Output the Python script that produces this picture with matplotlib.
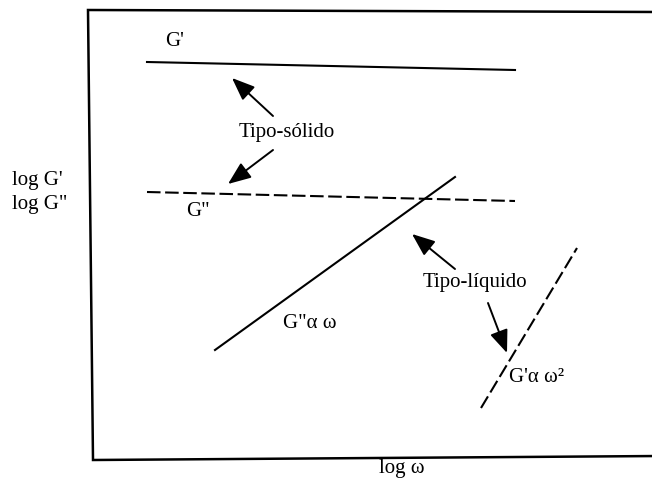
import matplotlib
matplotlib.use("Agg")
import matplotlib.pyplot as plt

# Schematic frequency sweep: log G', log G'' versus log w (arbitrary units)
frame_x = [660, 88, 93, 660]
frame_y = [468, 470, 20, 24]

gp_solid_x = [147, 515]
gp_solid_y = [418, 410]

gpp_solid_x = [147, 515]
gpp_solid_y = [288, 279]

gpp_liquid_x = [215, 455]
gpp_liquid_y = [130, 303]

gp_liquid_x = [481, 577]
gp_liquid_y = [72, 232]

labels = {
    "gp": "G'",
    "gpp": 'G"',
    "solid": "Tipo-sólido",
    "liquid": "Tipo-líquido",
    "gpp_w": 'G"α ω',
    "gp_w2": "G'α ω²",
    "ylab1": "log G'",
    "ylab2": 'log G"',
    "xlab": "log ω",
}

plt.rcParams["font.family"] = ["Liberation Serif", "DejaVu Serif"]
fs = 15

fig = plt.figure(figsize=(6.52, 4.8), dpi=100)
ax = fig.add_axes([0, 0, 1, 1])
ax.set_xlim(0, 652)
ax.set_ylim(0, 480)
ax.axis("off")

ax.plot(frame_x, frame_y, color="black", lw=1.8, solid_joinstyle="miter",
        clip_on=True)

ax.plot(gp_solid_x, gp_solid_y, color="black", lw=1.5)
ax.plot(gpp_solid_x, gpp_solid_y, color="black", lw=1.5, dashes=(6.5, 2.2))
ax.plot(gpp_liquid_x, gpp_liquid_y, color="black", lw=1.5)
ax.plot(gp_liquid_x, gp_liquid_y, color="black", lw=1.5, dashes=(6.5, 2.2))

arrow = dict(arrowstyle="-|>,head_length=1.0,head_width=0.4", color="black",
             lw=1.4, shrinkA=0, shrinkB=0, mutation_scale=14)
for tail, tip in [((273, 364), (232, 402)), ((273, 330), (228, 296)),
                  ((455, 211), (412, 246)), ((488, 177), (507, 127))]:
    ax.annotate("", xy=tip, xytext=tail, arrowprops=arrow)

ax.text(175, 439, labels["gp"], fontsize=fs, ha="center", va="center")
ax.text(287, 348, labels["solid"], fontsize=fs, ha="center", va="center")
ax.text(198, 268, labels["gpp"], fontsize=fs, ha="center", va="center")
ax.text(310, 157, labels["gpp_w"], fontsize=fs, ha="center", va="center")
ax.text(475, 197, labels["liquid"], fontsize=fs, ha="center", va="center")
ax.text(509, 103, labels["gp_w2"], fontsize=fs, ha="left", va="center")
ax.text(12, 300, labels["ylab1"], fontsize=fs, ha="left", va="center")
ax.text(12, 275, labels["ylab2"], fontsize=fs, ha="left", va="center")
ax.text(402, 11, labels["xlab"], fontsize=fs, ha="center", va="center")

fig.savefig("out.png", dpi=100)
